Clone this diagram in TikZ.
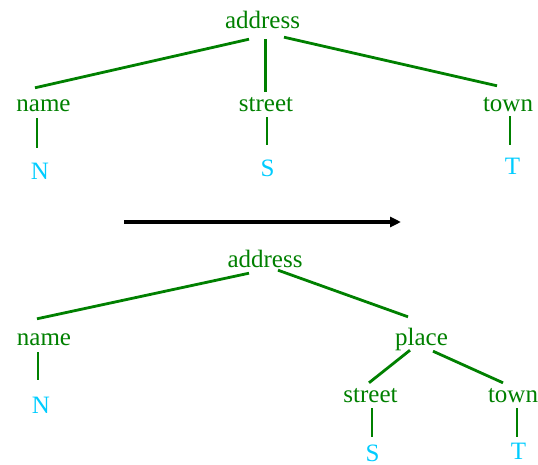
\documentclass[tikz,border=0pt]{standalone}
\usepackage{fontspec}
\setmainfont{Liberation Serif}
\usetikzlibrary{arrows.meta}
\definecolor{tgreen}{RGB}{0,128,0}
\definecolor{tcyan}{RGB}{0,204,255}
\begin{document}
\begin{tikzpicture}[x=1pt,y=-1pt,
  lbl/.style={anchor=base,inner sep=0pt,text height=17pt,text depth=5.5pt,
    font=\fontsize{25}{30}\selectfont},
  inner/.style={lbl,text=tgreen},
  leaf/.style={lbl,text=tcyan,text depth=0pt},
  br/.style={draw=tgreen,line width=2.8pt}]
\useasboundingbox (0,0) rectangle (538,465);
% top tree
\node[inner] (a1) at (262.5,29) {address};
\node[inner] (n1) at (43.5,112) {name};
\node[inner] (s1) at (266,112) {street};
\node[inner] (t1) at (508,112) {town};
\node[leaf] (N1) at (40,180) {N};
\node[leaf] (S1) at (267.5,177) {S};
\node[leaf] (T1) at (512.5,175) {T};
\draw[br] ([shift={(-13.5,4.5)}]a1.south) -- ([shift={(-8.5,-7)}]n1.north);
\draw[br] ([shift={(3,4.5)}]a1.south) -- ([shift={(-0.5,-3)}]s1.north);
\draw[br] ([shift={(21.5,2.5)}]a1.south) -- ([shift={(-11,-9)}]t1.north);
\draw[br] ([shift={(-6.5,0.5)}]n1.south) -- ([shift={(-3,-15)}]N1.north);
\draw[br] ([shift={(1,-0.5)}]s1.south) -- ([shift={(-0.5,-15)}]S1.north);
\draw[br] ([shift={(2,-1.5)}]t1.south) -- ([shift={(-2.5,-13)}]T1.north);
% arrow
\coordinate (arrS) at (124,222);
\coordinate (arrE) at (401,222);
\draw[line width=3.2pt,-{Triangle[length=11pt,width=10pt]}] (arrS) -- (arrE);
% bottom tree
\node[inner] (a2) at (265,267) {address};
\node[inner] (n2) at (44,345) {name};
\node[inner] (p2) at (421.5,345) {place};
\node[inner] (s2) at (370.5,402) {street};
\node[inner] (t2) at (513,402) {town};
\node[leaf] (N2) at (41,413) {N};
\node[leaf] (S2) at (372.5,461) {S};
\node[leaf] (T2) at (518.5,459.5) {T};
\draw[br] ([shift={(-16,0.5)}]a2.south) -- ([shift={(-7,-9)}]n2.north);
\draw[br] ([shift={(13,-2.5)}]a2.south) -- ([shift={(-13.5,-11)}]p2.north);
\draw[br] ([shift={(-11.5,-0.5)}]p2.south) -- ([shift={(-1.5,-2)}]s2.north);
\draw[br] ([shift={(11.5,0.5)}]p2.south) -- ([shift={(-10,-2)}]t2.north);
\draw[br] ([shift={(-6,1.5)}]n2.south) -- ([shift={(-3,-16)}]N2.north);
\draw[br] ([shift={(1.5,0.5)}]s2.south) -- ([shift={(-0.5,-7)}]S2.north);
\draw[br] ([shift={(4,0.5)}]t2.south) -- ([shift={(-1.5,-5.5)}]T2.north);
\end{tikzpicture}
\end{document}
